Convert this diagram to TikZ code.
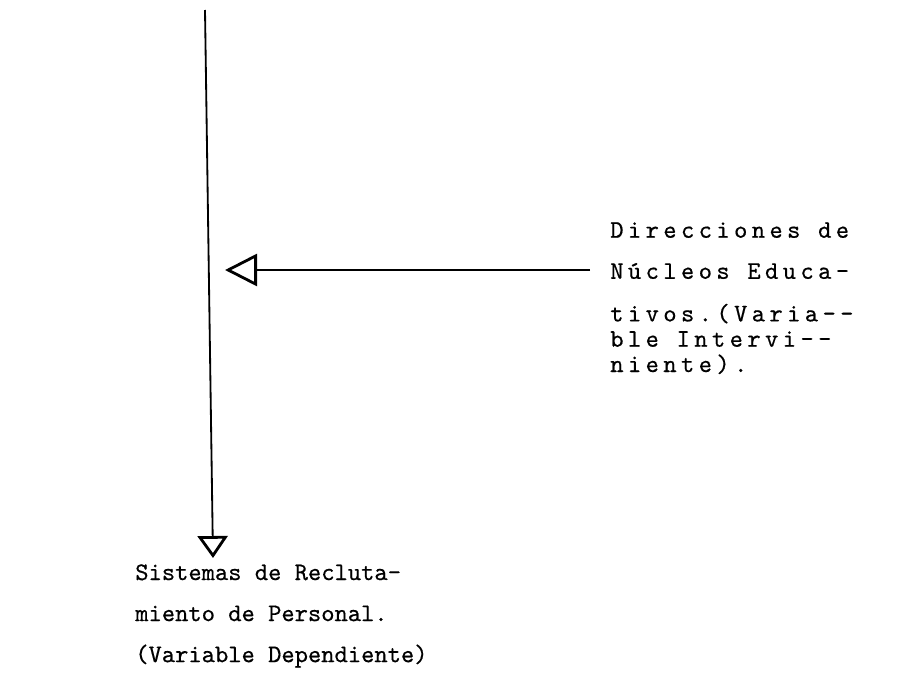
\documentclass[tikz,border=0pt]{standalone}
\usepackage{fontspec}
\newfontfamily\maquina{lmmono10-regular.otf}[FakeBold=0.5]
\newfontfamily\maquinaesp{lmmono10-regular.otf}[FakeBold=0.5, LetterSpace=17.4]
\usetikzlibrary{arrows.meta,positioning}

\begin{document}
\begin{tikzpicture}[
    flecha/.style={line width=1.3pt, -{Triangle[open, length=0.8cm, width=0.8cm, line width=2pt]}},
    flechab/.style={line width=1.3pt, -{Triangle[open, length=0.55cm, width=0.75cm, line width=2pt]}},
    texto/.style={font=\maquina\fontsize{18}{18}\selectfont, align=left, inner sep=0pt, anchor=north west},
    textoa/.style={texto, font=\maquinaesp\fontsize{18}{18}\selectfont}
]
    \useasboundingbox (0,0) rectangle (22.6,-16.825);

    % Variable interviniente (right) and dependiente (bottom)
    \node[textoa] (interv) at (15.25,-5.55)
        {Direcciones de\\[11.2pt]
         Núcleos Educa-\\[12.3pt]
         tivos.(Varia--\\
         ble Intervi--\\
         niente).};
    \node[texto] (depend) at (3.375,-14.1)
        {Sistemas de Recluta-\\[11.2pt]
         miento de Personal.\\[11.2pt]
         (Variable Dependiente)};

    % free ends of the connectors
    \coordinate (top) at (5.125,-0.25);
    \coordinate (bot) at (5.325,-13.95);
    \coordinate (orig) at (14.75,-6.75);
    \coordinate (dest) at (5.625,-6.75);

    \draw[flechab] (top) -- (bot);
    \draw[flecha] (orig) -- (dest);
\end{tikzpicture}
\end{document}
